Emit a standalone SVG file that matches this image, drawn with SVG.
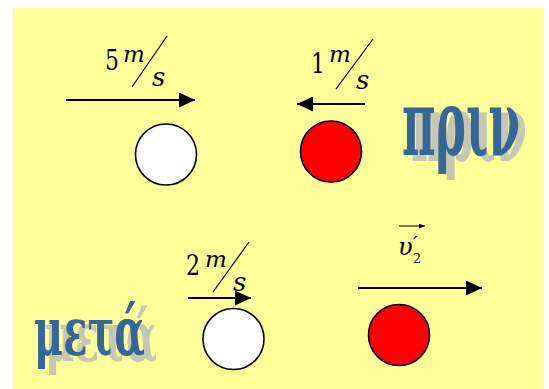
<svg xmlns="http://www.w3.org/2000/svg" width="549" height="389" viewBox="0 0 549 389">
<defs>
<style>
.ball{stroke:#000;stroke-width:1.6}
.white{fill:#fff}
.red{fill:#ff0000}
.arr{stroke:#000;stroke-width:2;fill:none}
.wblue{fill:#336699}
.wgray{fill:#b8b8b8;opacity:0.8}
</style>
<marker id="head" markerUnits="userSpaceOnUse" markerWidth="16" markerHeight="15" refX="16" refY="7.5" orient="auto">
<path d="M0,0 L16,7.5 L0,15 z" fill="#000"/>
</marker>
<marker id="smallhead" markerUnits="userSpaceOnUse" markerWidth="6" markerHeight="5" refX="6" refY="2.5" orient="auto">
<path d="M0,0 L6,2.5 L0,5 z" fill="#000"/>
</marker>
</defs>
<rect x="13" y="8" width="531" height="381" fill="#ffff99"/>

<g id="connectors">
<line class="arr" x1="66" y1="100" x2="195" y2="100" marker-end="url(#head)"/>
<line class="arr" x1="365" y1="104" x2="297" y2="104" marker-end="url(#head)"/>
<line class="arr" x1="188" y1="298" x2="251" y2="298" marker-end="url(#head)"/>
<line class="arr" x1="358" y1="288" x2="482" y2="288" marker-end="url(#head)"/>
</g>

<g id="ball-white-before"><circle class="ball white" cx="166" cy="154.5" r="30.5"/></g>
<g id="ball-red-before"><circle class="ball red" cx="331" cy="151.5" r="30.5"/></g>
<g id="ball-white-after"><circle class="ball white" cx="233.5" cy="339" r="30.5"/></g>
<g id="ball-red-after"><circle class="ball red" cx="399" cy="335" r="30.5"/></g>

<g fill="#000" font-family="'DejaVu Serif', serif">
<g id="label-5ms">
<text x="105" y="70" font-size="28" textLength="14" lengthAdjust="spacingAndGlyphs">5</text>
<text x="123" y="62" font-size="23" font-style="italic">m</text>
<line x1="132" y1="87" x2="167" y2="36" stroke="#000" stroke-width="1.2"/>
<text x="152" y="86" font-size="26" font-style="italic">s</text>
</g>
<g id="label-1ms">
<text x="311" y="73" font-size="28" textLength="14" lengthAdjust="spacingAndGlyphs">1</text>
<text x="329" y="62" font-size="23" font-style="italic">m</text>
<line x1="336" y1="89" x2="373" y2="39" stroke="#000" stroke-width="1.2"/>
<text x="356" y="89" font-size="26" font-style="italic">s</text>
</g>
<g id="label-2ms">
<text x="186" y="275" font-size="28" textLength="14" lengthAdjust="spacingAndGlyphs">2</text>
<text x="205" y="267" font-size="23" font-style="italic">m</text>
<line x1="213" y1="292" x2="249" y2="242" stroke="#000" stroke-width="1.2"/>
<text x="233" y="291" font-size="26" font-style="italic">s</text>
</g>
<g id="label-v2">
<line x1="399" y1="226" x2="425" y2="226" stroke="#000" stroke-width="1" marker-end="url(#smallhead)"/>
<text x="398" y="255" font-size="24" font-style="italic">υ</text>
<text x="413" y="251" font-size="20" font-style="italic">′</text>
<text x="413" y="263" font-size="13">2</text>
</g>

<g id="word-priv" font-weight="bold">
<text class="wgray" transform="translate(411,161) scale(1,1.68)" font-size="56" textLength="116" lengthAdjust="spacingAndGlyphs">πριν</text>
<text class="wblue" transform="translate(402,155) scale(1,1.65)" font-size="56" textLength="118" lengthAdjust="spacingAndGlyphs">πριν</text>
</g>
<g id="word-meta" font-weight="bold">
<text class="wgray" transform="translate(45,361) scale(1,1.38)" font-size="50" textLength="112" lengthAdjust="spacingAndGlyphs">μετά</text>
<text class="wblue" transform="translate(34,355) scale(1,1.35)" font-size="50" textLength="111" lengthAdjust="spacingAndGlyphs">μετά</text>
</g>
</g>
</svg>
